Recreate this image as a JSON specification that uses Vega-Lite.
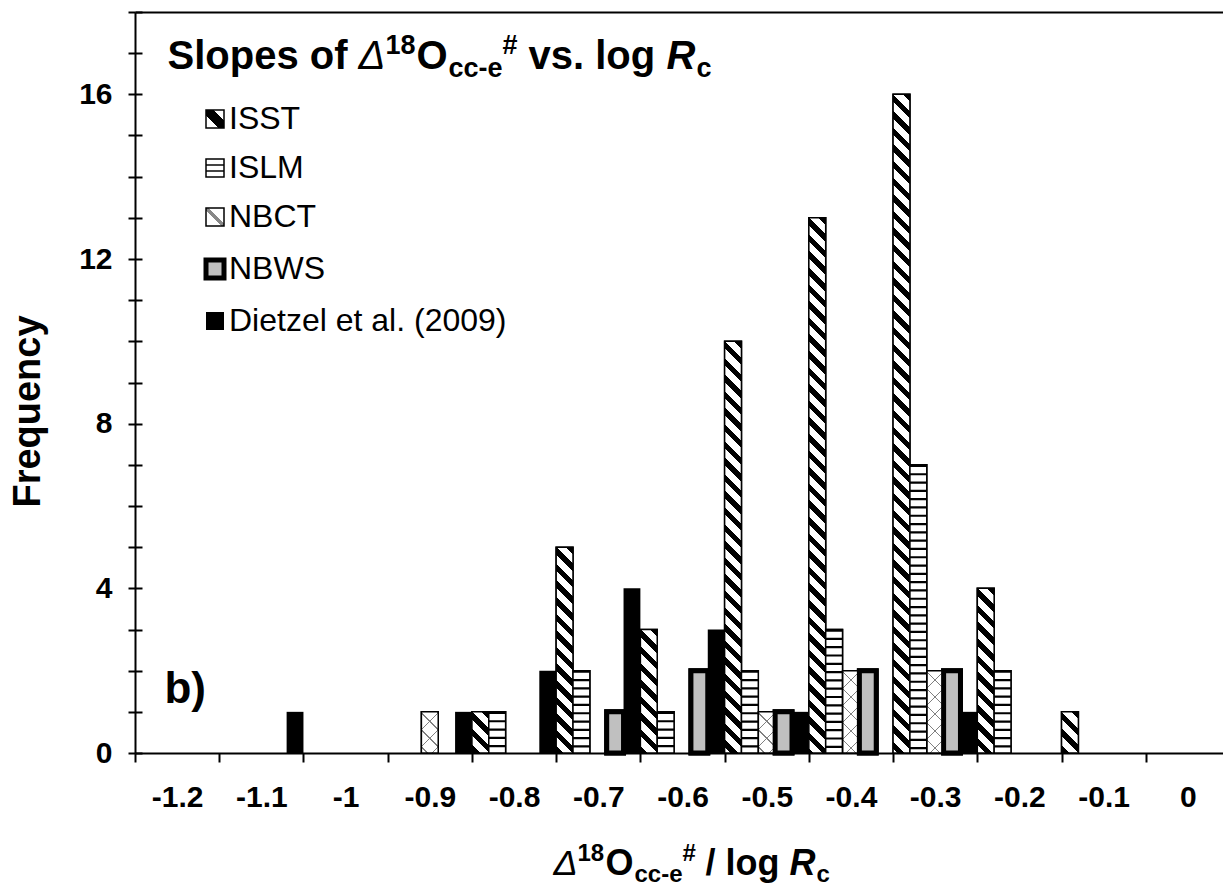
{
  "$schema": "https://vega.github.io/schema/vega-lite/v6.json",
  "width": 1088,
  "height": 741,
  "autosize": {"type": "none"},
  "padding": {"left": 135, "top": 12, "right": 0, "bottom": 136},
  "background": "white",
  "config": {
    "view": {"stroke": null},
    "font": "Liberation Sans",
    "axis": {"domainColor": "black", "tickColor": "black", "labelColor": "black", "titleColor": "black", "grid": false, "labelFont": "Liberation Sans", "titleFont": "Liberation Sans"}
  },
  "params": [
    {"name": "isstStops", "value": [
      {"offset":0,"color":"#000"},{"offset":0.009,"color":"#000"},{"offset":0.009,"color":"#fff"},{"offset":0.02,"color":"#fff"},
      {"offset":0.02,"color":"#000"},{"offset":0.029,"color":"#000"},{"offset":0.029,"color":"#fff"},{"offset":0.04,"color":"#fff"},
      {"offset":0.04,"color":"#000"},{"offset":0.049,"color":"#000"},{"offset":0.049,"color":"#fff"},{"offset":0.06,"color":"#fff"},
      {"offset":0.06,"color":"#000"},{"offset":0.069,"color":"#000"},{"offset":0.069,"color":"#fff"},{"offset":0.08,"color":"#fff"},
      {"offset":0.08,"color":"#000"},{"offset":0.089,"color":"#000"},{"offset":0.089,"color":"#fff"},{"offset":0.1,"color":"#fff"},
      {"offset":0.1,"color":"#000"},{"offset":0.109,"color":"#000"},{"offset":0.109,"color":"#fff"},{"offset":0.12,"color":"#fff"},
      {"offset":0.12,"color":"#000"},{"offset":0.129,"color":"#000"},{"offset":0.129,"color":"#fff"},{"offset":0.14,"color":"#fff"},
      {"offset":0.14,"color":"#000"},{"offset":0.149,"color":"#000"},{"offset":0.149,"color":"#fff"},{"offset":0.16,"color":"#fff"},
      {"offset":0.16,"color":"#000"},{"offset":0.169,"color":"#000"},{"offset":0.169,"color":"#fff"},{"offset":0.18,"color":"#fff"},
      {"offset":0.18,"color":"#000"},{"offset":0.189,"color":"#000"},{"offset":0.189,"color":"#fff"},{"offset":0.2,"color":"#fff"},
      {"offset":0.2,"color":"#000"},{"offset":0.209,"color":"#000"},{"offset":0.209,"color":"#fff"},{"offset":0.22,"color":"#fff"},
      {"offset":0.22,"color":"#000"},{"offset":0.229,"color":"#000"},{"offset":0.229,"color":"#fff"},{"offset":0.24,"color":"#fff"},
      {"offset":0.24,"color":"#000"},{"offset":0.249,"color":"#000"},{"offset":0.249,"color":"#fff"},{"offset":0.26,"color":"#fff"},
      {"offset":0.26,"color":"#000"},{"offset":0.269,"color":"#000"},{"offset":0.269,"color":"#fff"},{"offset":0.28,"color":"#fff"},
      {"offset":0.28,"color":"#000"},{"offset":0.289,"color":"#000"},{"offset":0.289,"color":"#fff"},{"offset":0.3,"color":"#fff"},
      {"offset":0.3,"color":"#000"},{"offset":0.309,"color":"#000"},{"offset":0.309,"color":"#fff"},{"offset":0.32,"color":"#fff"},
      {"offset":0.32,"color":"#000"},{"offset":0.329,"color":"#000"},{"offset":0.329,"color":"#fff"},{"offset":0.34,"color":"#fff"},
      {"offset":0.34,"color":"#000"},{"offset":0.349,"color":"#000"},{"offset":0.349,"color":"#fff"},{"offset":0.36,"color":"#fff"},
      {"offset":0.36,"color":"#000"},{"offset":0.369,"color":"#000"},{"offset":0.369,"color":"#fff"},{"offset":0.38,"color":"#fff"},
      {"offset":0.38,"color":"#000"},{"offset":0.389,"color":"#000"},{"offset":0.389,"color":"#fff"},{"offset":0.4,"color":"#fff"},
      {"offset":0.4,"color":"#000"},{"offset":0.409,"color":"#000"},{"offset":0.409,"color":"#fff"},{"offset":0.42,"color":"#fff"},
      {"offset":0.42,"color":"#000"},{"offset":0.429,"color":"#000"},{"offset":0.429,"color":"#fff"},{"offset":0.44,"color":"#fff"},
      {"offset":0.44,"color":"#000"},{"offset":0.449,"color":"#000"},{"offset":0.449,"color":"#fff"},{"offset":0.46,"color":"#fff"},
      {"offset":0.46,"color":"#000"},{"offset":0.469,"color":"#000"},{"offset":0.469,"color":"#fff"},{"offset":0.48,"color":"#fff"},
      {"offset":0.48,"color":"#000"},{"offset":0.489,"color":"#000"},{"offset":0.489,"color":"#fff"},{"offset":0.5,"color":"#fff"},
      {"offset":0.5,"color":"#000"},{"offset":0.509,"color":"#000"},{"offset":0.509,"color":"#fff"},{"offset":0.52,"color":"#fff"},
      {"offset":0.52,"color":"#000"},{"offset":0.529,"color":"#000"},{"offset":0.529,"color":"#fff"},{"offset":0.54,"color":"#fff"},
      {"offset":0.54,"color":"#000"},{"offset":0.549,"color":"#000"},{"offset":0.549,"color":"#fff"},{"offset":0.56,"color":"#fff"},
      {"offset":0.56,"color":"#000"},{"offset":0.569,"color":"#000"},{"offset":0.569,"color":"#fff"},{"offset":0.58,"color":"#fff"},
      {"offset":0.58,"color":"#000"},{"offset":0.589,"color":"#000"},{"offset":0.589,"color":"#fff"},{"offset":0.6,"color":"#fff"},
      {"offset":0.6,"color":"#000"},{"offset":0.609,"color":"#000"},{"offset":0.609,"color":"#fff"},{"offset":0.62,"color":"#fff"},
      {"offset":0.62,"color":"#000"},{"offset":0.629,"color":"#000"},{"offset":0.629,"color":"#fff"},{"offset":0.64,"color":"#fff"},
      {"offset":0.64,"color":"#000"},{"offset":0.649,"color":"#000"},{"offset":0.649,"color":"#fff"},{"offset":0.66,"color":"#fff"},
      {"offset":0.66,"color":"#000"},{"offset":0.669,"color":"#000"},{"offset":0.669,"color":"#fff"},{"offset":0.68,"color":"#fff"},
      {"offset":0.68,"color":"#000"},{"offset":0.689,"color":"#000"},{"offset":0.689,"color":"#fff"},{"offset":0.7,"color":"#fff"},
      {"offset":0.7,"color":"#000"},{"offset":0.709,"color":"#000"},{"offset":0.709,"color":"#fff"},{"offset":0.72,"color":"#fff"},
      {"offset":0.72,"color":"#000"},{"offset":0.729,"color":"#000"},{"offset":0.729,"color":"#fff"},{"offset":0.74,"color":"#fff"},
      {"offset":0.74,"color":"#000"},{"offset":0.749,"color":"#000"},{"offset":0.749,"color":"#fff"},{"offset":0.76,"color":"#fff"},
      {"offset":0.76,"color":"#000"},{"offset":0.769,"color":"#000"},{"offset":0.769,"color":"#fff"},{"offset":0.78,"color":"#fff"},
      {"offset":0.78,"color":"#000"},{"offset":0.789,"color":"#000"},{"offset":0.789,"color":"#fff"},{"offset":0.8,"color":"#fff"},
      {"offset":0.8,"color":"#000"},{"offset":0.809,"color":"#000"},{"offset":0.809,"color":"#fff"},{"offset":1,"color":"#fff"}
    ]},
    {"name": "nbctW", "value": [
      {"offset":0,"color":"#808080"},{"offset":0.012,"color":"#808080"},{"offset":0.012,"color":"#fff"},{"offset":0.1429,"color":"#fff"},
      {"offset":0.1429,"color":"#808080"},{"offset":0.1549,"color":"#808080"},{"offset":0.1549,"color":"#fff"},{"offset":0.2857,"color":"#fff"},
      {"offset":0.2857,"color":"#808080"},{"offset":0.2977,"color":"#808080"},{"offset":0.2977,"color":"#fff"},{"offset":0.4286,"color":"#fff"},
      {"offset":0.4286,"color":"#808080"},{"offset":0.4406,"color":"#808080"},{"offset":0.4406,"color":"#fff"},{"offset":0.5714,"color":"#fff"},
      {"offset":0.5714,"color":"#808080"},{"offset":0.5834,"color":"#808080"},{"offset":0.5834,"color":"#fff"},{"offset":0.7143,"color":"#fff"},
      {"offset":0.7143,"color":"#808080"},{"offset":0.7263,"color":"#808080"},{"offset":0.7263,"color":"#fff"},{"offset":0.8571,"color":"#fff"},
      {"offset":0.8571,"color":"#808080"},{"offset":0.8691,"color":"#808080"},{"offset":0.8691,"color":"#fff"},{"offset":1,"color":"#fff"}
    ]},
    {"name": "nbctT", "value": [
      {"offset":0,"color":"#808080"},{"offset":0.012,"color":"#808080"},{"offset":0.012,"color":"rgba(255,255,255,0)"},{"offset":0.1429,"color":"rgba(255,255,255,0)"},
      {"offset":0.1429,"color":"#808080"},{"offset":0.1549,"color":"#808080"},{"offset":0.1549,"color":"rgba(255,255,255,0)"},{"offset":0.2857,"color":"rgba(255,255,255,0)"},
      {"offset":0.2857,"color":"#808080"},{"offset":0.2977,"color":"#808080"},{"offset":0.2977,"color":"rgba(255,255,255,0)"},{"offset":0.4286,"color":"rgba(255,255,255,0)"},
      {"offset":0.4286,"color":"#808080"},{"offset":0.4406,"color":"#808080"},{"offset":0.4406,"color":"rgba(255,255,255,0)"},{"offset":0.5714,"color":"rgba(255,255,255,0)"},
      {"offset":0.5714,"color":"#808080"},{"offset":0.5834,"color":"#808080"},{"offset":0.5834,"color":"rgba(255,255,255,0)"},{"offset":0.7143,"color":"rgba(255,255,255,0)"},
      {"offset":0.7143,"color":"#808080"},{"offset":0.7263,"color":"#808080"},{"offset":0.7263,"color":"rgba(255,255,255,0)"},{"offset":0.8571,"color":"rgba(255,255,255,0)"},
      {"offset":0.8571,"color":"#808080"},{"offset":0.8691,"color":"#808080"},{"offset":0.8691,"color":"rgba(255,255,255,0)"},{"offset":1,"color":"rgba(255,255,255,0)"}
    ]}
  ],
  "datasets": {
    "hist": [
      {"bin":"-1.1","series":"Dietzel et al. (2009)","count":1},
      {"bin":"-0.9","series":"NBCT","count":1},
      {"bin":"-0.9","series":"Dietzel et al. (2009)","count":1},
      {"bin":"-0.8","series":"ISST","count":1},
      {"bin":"-0.8","series":"ISLM","count":1},
      {"bin":"-0.8","series":"Dietzel et al. (2009)","count":2},
      {"bin":"-0.7","series":"ISST","count":5},
      {"bin":"-0.7","series":"ISLM","count":2},
      {"bin":"-0.7","series":"NBWS","count":1},
      {"bin":"-0.7","series":"Dietzel et al. (2009)","count":4},
      {"bin":"-0.6","series":"ISST","count":3},
      {"bin":"-0.6","series":"ISLM","count":1},
      {"bin":"-0.6","series":"NBWS","count":2},
      {"bin":"-0.6","series":"Dietzel et al. (2009)","count":3},
      {"bin":"-0.5","series":"ISST","count":10},
      {"bin":"-0.5","series":"ISLM","count":2},
      {"bin":"-0.5","series":"NBCT","count":1},
      {"bin":"-0.5","series":"NBWS","count":1},
      {"bin":"-0.5","series":"Dietzel et al. (2009)","count":1},
      {"bin":"-0.4","series":"ISST","count":13},
      {"bin":"-0.4","series":"ISLM","count":3},
      {"bin":"-0.4","series":"NBCT","count":2},
      {"bin":"-0.4","series":"NBWS","count":2},
      {"bin":"-0.3","series":"ISST","count":16},
      {"bin":"-0.3","series":"ISLM","count":7},
      {"bin":"-0.3","series":"NBCT","count":2},
      {"bin":"-0.3","series":"NBWS","count":2},
      {"bin":"-0.3","series":"Dietzel et al. (2009)","count":1},
      {"bin":"-0.2","series":"ISST","count":4},
      {"bin":"-0.2","series":"ISLM","count":2},
      {"bin":"-0.1","series":"ISST","count":1}
    ]
  },
  "data": {"name": "hist"},
  "layer": [
    {
      "mark": {"type": "bar"},
      "encoding": {
        "x": {"field": "bin", "type": "nominal",
          "scale": {"domain": ["-1.2","-1.1","-1","-0.9","-0.8","-0.7","-0.6","-0.5","-0.4","-0.3","-0.2","-0.1","0"], "paddingInner": 0, "paddingOuter": 0, "range": [0, 1095]},
          "axis": {"orient": "bottom", "tickBand": "extent", "tickSize": 9, "tickWidth": 2, "domainWidth": 2, "labelAngle": 0, "labelFontSize": 30, "labelFontWeight": "bold", "labelPadding": 20, "labelOverlap": false,
            "title": "Δ", "titleFontSize": 36, "titleFontWeight": "normal", "titleFontStyle": "italic", "titleX": 418, "titleY": 121, "titleAlign": "left", "titleBaseline": "alphabetic"}},
        "xOffset": {"field": "series", "type": "nominal", "scale": {"domain": ["ISST","ISLM","NBCT","NBWS","Dietzel et al. (2009)"], "paddingInner": 0, "paddingOuter": 0}},
        "y": {"field": "count", "type": "quantitative", "scale": {"domain": [0, 18], "nice": false},
          "axis": {"orient": "left", "values": [0,1,2,3,4,5,6,7,8,9,10,11,12,13,14,15,16,17,18], "labelExpr": "datum.value % 4 == 0 ? datum.label : ''", "tickSize": 7, "tickWidth": 2, "domainWidth": 2, "labelFontSize": 30, "labelFontWeight": "bold", "labelPadding": 16, "labelFlush": false, "labelOverlap": false,
            "title": "Frequency", "titleFontSize": 38, "titleFontWeight": "bold", "titleX": -107, "titleY": 399, "titleAngle": -90, "titleAlign": "center", "titleBaseline": "middle"}},
        "fill": {"field": "series", "type": "nominal",
          "scale": {"domain": ["ISST","ISLM","NBCT","NBWS","Dietzel et al. (2009)"], "range": [
            {"expr": "{gradient:'linear',x1:1,y1:0,x2:0,y2:1,stops:[{offset:0,color:'#fff'},{offset:0.3,color:'#fff'},{offset:0.3,color:'#000'},{offset:0.65,color:'#000'},{offset:0.65,color:'#fff'},{offset:1,color:'#fff'}]}"},
            {"expr": "{gradient:'linear',x1:0,y1:0,x2:0,y2:1,stops:[{offset:0,color:'#fff'},{offset:0.28,color:'#fff'},{offset:0.28,color:'#444'},{offset:0.4,color:'#444'},{offset:0.4,color:'#fff'},{offset:0.6,color:'#fff'},{offset:0.6,color:'#444'},{offset:0.72,color:'#444'},{offset:0.72,color:'#fff'},{offset:1,color:'#fff'}]}"},
            {"expr": "{gradient:'linear',x1:1,y1:0,x2:0,y2:1,stops:[{offset:0,color:'#fff'},{offset:0.44,color:'#fff'},{offset:0.44,color:'#888'},{offset:0.56,color:'#888'},{offset:0.56,color:'#fff'},{offset:1,color:'#fff'}]}"},
            "#c0c0c0",
            "#000000"]},
          "legend": {"orient": "none", "legendX": 64, "legendY": 91, "title": null, "symbolType": "square", "symbolSize": 324, "labelFontSize": 32, "labelFont": "Liberation Sans", "labelColor": "black", "labelLimit": 500, "rowPadding": 17, "labelOffset": -2, "padding": 0}},
        "stroke": {"field": "series", "type": "nominal",
          "scale": {"domain": ["ISST","ISLM","NBCT","NBWS","Dietzel et al. (2009)"], "range": ["#000000", "#000000", "#000000", "#000000", "#000000"]},
          "legend": {"orient": "none", "legendX": 64, "legendY": 91, "title": null, "symbolType": "square", "symbolSize": 324, "labelFontSize": 32, "labelFont": "Liberation Sans", "labelColor": "black", "labelLimit": 500, "rowPadding": 17, "labelOffset": -2, "padding": 0}},
        "strokeWidth": {"field": "series", "type": "nominal",
          "scale": {"type": "ordinal", "domain": ["ISST","ISLM","NBCT","NBWS","Dietzel et al. (2009)"], "range": [1.5, 1.5, 1.5, 5, 0]},
          "legend": {"orient": "none", "legendX": 64, "legendY": 91, "title": null, "symbolType": "square", "symbolSize": 324, "labelFontSize": 32, "labelFont": "Liberation Sans", "labelColor": "black", "labelLimit": 500, "rowPadding": 17, "labelOffset": -2, "padding": 0}}
      }
    },
    {
      "transform": [{"filter": "datum.series == 'ISST'"}],
      "mark": {"type": "bar", "stroke": "black", "strokeWidth": 1.5,
        "fill": {"expr": "{gradient:'linear',x1:1,y1:0,x2:1-830*bandwidth('xOffset')/(pow(bandwidth('xOffset'),2)+pow(scale('y',0)-scale('y',datum.count),2)),y2:830*(scale('y',0)-scale('y',datum.count))/(pow(bandwidth('xOffset'),2)+pow(scale('y',0)-scale('y',datum.count),2)),stops:isstStops}"}},
      "encoding": {
        "x": {"field": "bin", "type": "nominal", "axis": null},
        "xOffset": {"field": "series", "type": "nominal"},
        "y": {"field": "count", "type": "quantitative", "axis": null}
      }
    },
    {
      "transform": [{"filter": "datum.series == 'ISLM'"}],
      "mark": {"type": "bar", "fill": "white"},
      "encoding": {
        "x": {"field": "bin", "type": "nominal", "axis": null},
        "xOffset": {"field": "series", "type": "nominal"},
        "y": {"field": "count", "type": "quantitative", "axis": null}
      }
    },
    {
      "transform": [{"filter": "datum.series == 'ISLM'"}],
      "mark": {"type": "rule", "stroke": "black", "strokeWidth": {"expr": "bandwidth('xOffset')"}, "strokeDash": [2.2, 6.1], "strokeCap": "butt"},
      "encoding": {
        "x": {"field": "bin", "type": "nominal", "axis": null},
        "xOffset": {"field": "series", "type": "nominal"},
        "y": {"field": "count", "type": "quantitative", "axis": null},
        "y2": {"datum": 0}
      }
    },
    {
      "transform": [{"filter": "datum.series == 'NBCT'"}],
      "mark": {"type": "bar",
        "fill": {"expr": "{gradient:'linear',x1:1,y1:0,x2:1-119*bandwidth('xOffset')/(pow(bandwidth('xOffset'),2)+pow(scale('y',0)-scale('y',datum.count),2)),y2:119*(scale('y',0)-scale('y',datum.count))/(pow(bandwidth('xOffset'),2)+pow(scale('y',0)-scale('y',datum.count),2)),stops:nbctW}"}},
      "encoding": {
        "x": {"field": "bin", "type": "nominal", "axis": null},
        "xOffset": {"field": "series", "type": "nominal"},
        "y": {"field": "count", "type": "quantitative", "axis": null}
      }
    },
    {
      "transform": [{"filter": "datum.series == 'NBCT'"}],
      "mark": {"type": "bar",
        "fill": {"expr": "{gradient:'linear',x1:0,y1:0,x2:119*bandwidth('xOffset')/(pow(bandwidth('xOffset'),2)+pow(scale('y',0)-scale('y',datum.count),2)),y2:119*(scale('y',0)-scale('y',datum.count))/(pow(bandwidth('xOffset'),2)+pow(scale('y',0)-scale('y',datum.count),2)),stops:nbctT}"}},
      "encoding": {
        "x": {"field": "bin", "type": "nominal", "axis": null},
        "xOffset": {"field": "series", "type": "nominal"},
        "y": {"field": "count", "type": "quantitative", "axis": null}
      }
    },
    {
      "transform": [{"filter": "datum.series == 'ISLM' || datum.series == 'NBCT'"}],
      "mark": {"type": "bar", "filled": false, "stroke": "black", "strokeWidth": 1.5},
      "encoding": {
        "x": {"field": "bin", "type": "nominal", "axis": null},
        "xOffset": {"field": "series", "type": "nominal"},
        "y": {"field": "count", "type": "quantitative", "axis": null}
      }
    },
    {
      "transform": [{"filter": "datum.series == 'NBWS'"}],
      "mark": {"type": "bar", "fill": "#c0c0c0", "stroke": "black", "strokeWidth": 5},
      "encoding": {
        "x": {"field": "bin", "type": "nominal", "axis": null},
        "xOffset": {"field": "series", "type": "nominal"},
        "y": {"field": "count", "type": "quantitative", "axis": null}
      }
    },
    {
      "mark": {"type": "bar", "opacity": 0},
      "encoding": {
        "x": {"field": "bin", "type": "nominal",
          "axis": {"orient": "top", "domain": true, "domainWidth": 2, "ticks": false, "labels": false,
            "title": "Slopes of", "titleFontSize": 40, "titleFontWeight": "bold", "titleX": 32, "titleY": 56, "titleAlign": "left", "titleBaseline": "alphabetic"}},
        "xOffset": {"field": "series", "type": "nominal"},
        "y": {"field": "count", "type": "quantitative",
          "axis": {"orient": "left", "offset": -7, "domain": false, "labels": false, "ticks": true, "tickSize": 7, "tickWidth": 2, "values": [0,1,2,3,4,5,6,7,8,9,10,11,12,13,14,15,16,17,18], "title": null}}
      }
    },
    {
      "mark": {"type": "bar", "opacity": 0},
      "encoding": {
        "x": {"field": "bin", "type": "nominal",
          "axis": {"orient": "top", "domain": false, "ticks": false, "labels": false,
            "title": "Δ", "titleFontSize": 40, "titleFontWeight": "normal", "titleFontStyle": "italic", "titleX": 223, "titleY": 56, "titleAlign": "left", "titleBaseline": "alphabetic"}},
        "xOffset": {"field": "series", "type": "nominal"},
        "y": {"field": "count", "type": "quantitative",
          "axis": {"orient": "left", "domain": false, "ticks": false, "labels": false, "grid": false,
            "title": "18", "titleAngle": 0, "titleFontSize": 27, "titleFontWeight": "bold", "titleX": 250, "titleY": 41, "titleAlign": "left", "titleBaseline": "alphabetic"}}
      }
    },
    {
      "mark": {"type": "bar", "opacity": 0},
      "encoding": {
        "x": {"field": "bin", "type": "nominal",
          "axis": {"orient": "top", "domain": false, "ticks": false, "labels": false,
            "title": "O", "titleFontSize": 40, "titleFontWeight": "bold", "titleX": 281, "titleY": 56, "titleAlign": "left", "titleBaseline": "alphabetic"}},
        "xOffset": {"field": "series", "type": "nominal"},
        "y": {"field": "count", "type": "quantitative",
          "axis": {"orient": "left", "domain": false, "ticks": false, "labels": false, "grid": false,
            "title": "cc-e", "titleAngle": 0, "titleFontSize": 27, "titleFontWeight": "bold", "titleX": 313, "titleY": 64, "titleAlign": "left", "titleBaseline": "alphabetic"}}
      }
    },
    {
      "mark": {"type": "bar", "opacity": 0},
      "encoding": {
        "x": {"field": "bin", "type": "nominal",
          "axis": {"orient": "top", "domain": false, "ticks": false, "labels": false,
            "title": "vs. log", "titleFontSize": 40, "titleFontWeight": "bold", "titleX": 393, "titleY": 56, "titleAlign": "left", "titleBaseline": "alphabetic"}},
        "xOffset": {"field": "series", "type": "nominal"},
        "y": {"field": "count", "type": "quantitative",
          "axis": {"orient": "left", "domain": false, "ticks": false, "labels": false, "grid": false,
            "title": "#", "titleAngle": 0, "titleFontSize": 27, "titleFontWeight": "bold", "titleX": 367, "titleY": 41, "titleAlign": "left", "titleBaseline": "alphabetic"}}
      }
    },
    {
      "mark": {"type": "bar", "opacity": 0},
      "encoding": {
        "x": {"field": "bin", "type": "nominal",
          "axis": {"orient": "top", "domain": false, "ticks": false, "labels": false,
            "title": "R", "titleFontSize": 40, "titleFontWeight": "bold", "titleFontStyle": "italic", "titleX": 531, "titleY": 56, "titleAlign": "left", "titleBaseline": "alphabetic"}},
        "xOffset": {"field": "series", "type": "nominal"},
        "y": {"field": "count", "type": "quantitative",
          "axis": {"orient": "left", "domain": false, "ticks": false, "labels": false, "grid": false,
            "title": "c", "titleAngle": 0, "titleFontSize": 27, "titleFontWeight": "bold", "titleX": 561, "titleY": 64, "titleAlign": "left", "titleBaseline": "alphabetic"}}
      }
    },
    {
      "mark": {"type": "bar", "opacity": 0},
      "encoding": {
        "x": {"field": "bin", "type": "nominal",
          "axis": {"orient": "bottom", "domain": false, "ticks": false, "labels": false,
            "title": "18", "titleFontSize": 24, "titleFontWeight": "bold", "titleX": 442, "titleY": 107, "titleAlign": "left", "titleBaseline": "alphabetic"}},
        "xOffset": {"field": "series", "type": "nominal"},
        "y": {"field": "count", "type": "quantitative",
          "axis": {"orient": "left", "domain": false, "ticks": false, "labels": false, "grid": false,
            "title": "cc-e", "titleAngle": 0, "titleFontSize": 24, "titleFontWeight": "bold", "titleX": 499, "titleY": 869, "titleAlign": "left", "titleBaseline": "alphabetic"}}
      }
    },
    {
      "mark": {"type": "bar", "opacity": 0},
      "encoding": {
        "x": {"field": "bin", "type": "nominal",
          "axis": {"orient": "bottom", "domain": false, "ticks": false, "labels": false,
            "title": "O", "titleFontSize": 36, "titleFontWeight": "bold", "titleX": 470, "titleY": 121, "titleAlign": "left", "titleBaseline": "alphabetic"}},
        "xOffset": {"field": "series", "type": "nominal"},
        "y": {"field": "count", "type": "quantitative",
          "axis": {"orient": "left", "domain": false, "ticks": false, "labels": false, "grid": false,
            "title": "#", "titleAngle": 0, "titleFontSize": 24, "titleFontWeight": "bold", "titleX": 547, "titleY": 848, "titleAlign": "left", "titleBaseline": "alphabetic"}}
      }
    },
    {
      "mark": {"type": "bar", "opacity": 0},
      "encoding": {
        "x": {"field": "bin", "type": "nominal",
          "axis": {"orient": "bottom", "domain": false, "ticks": false, "labels": false,
            "title": "/ log", "titleFontSize": 36, "titleFontWeight": "bold", "titleX": 570, "titleY": 121, "titleAlign": "left", "titleBaseline": "alphabetic"}},
        "xOffset": {"field": "series", "type": "nominal"},
        "y": {"field": "count", "type": "quantitative",
          "axis": {"orient": "left", "domain": false, "ticks": false, "labels": false, "grid": false,
            "title": "c", "titleAngle": 0, "titleFontSize": 24, "titleFontWeight": "bold", "titleX": 681, "titleY": 869, "titleAlign": "left", "titleBaseline": "alphabetic"}}
      }
    },
    {
      "mark": {"type": "bar", "opacity": 0},
      "encoding": {
        "x": {"field": "bin", "type": "nominal",
          "axis": {"orient": "bottom", "domain": false, "ticks": false, "labels": false,
            "title": "R", "titleFontSize": 36, "titleFontWeight": "bold", "titleFontStyle": "italic", "titleX": 654, "titleY": 121, "titleAlign": "left", "titleBaseline": "alphabetic"}},
        "xOffset": {"field": "series", "type": "nominal"},
        "y": {"field": "count", "type": "quantitative", "axis": null}
      }
    },
    {
      "data": {"values": [{"t": "b)"}]},
      "mark": {"type": "text", "fontSize": 44, "fontWeight": "bold", "align": "left", "baseline": "alphabetic", "fill": "black", "font": "Liberation Sans"},
      "encoding": {
        "text": {"field": "t", "type": "nominal"},
        "x": {"datum": "-1.2", "type": "nominal", "bandPosition": 0.35, "axis": null},
        "y": {"datum": 1.21, "type": "quantitative", "axis": null}
      }
    }
  ],
  "resolve": {"axis": {"x": "independent", "y": "independent"}}
}
